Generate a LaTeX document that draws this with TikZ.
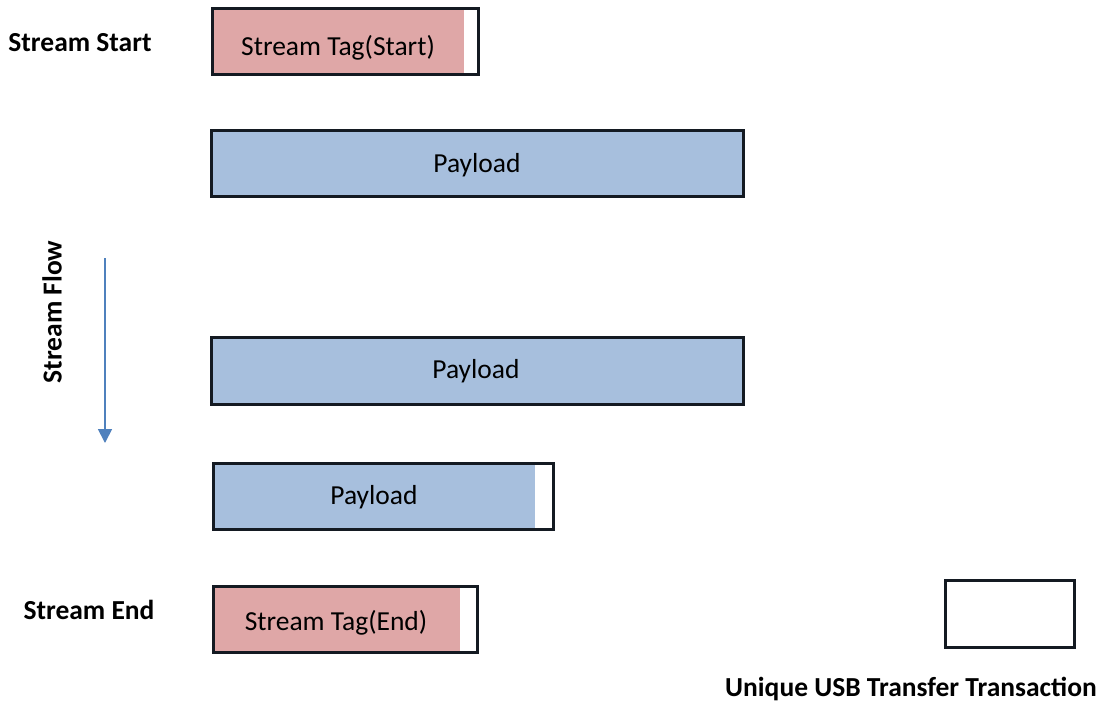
\documentclass[tikz,border=0pt]{standalone}
\usepackage{fontspec}
\setmainfont{Carlito}
\usetikzlibrary{arrows.meta}
\definecolor{pinkfill}{HTML}{DFA7A7}
\definecolor{bluefill}{HTML}{A7BFDD}
\definecolor{arrowblue}{HTML}{4F81BD}
\definecolor{frameline}{HTML}{141A22}
\tikzset{
  fillbox/.style={inner sep=0pt, outer sep=0pt, draw=none, anchor=north west},
  pinkbox/.style={fillbox, fill=pinkfill},
  bluebox/.style={fillbox, fill=bluefill},
  frame/.style={draw=frameline, line width=3pt},
  boxtext/.style={font=\fontsize{27.5}{32}\selectfont, inner sep=0pt, anchor=base, text=black},
  lbl/.style={font=\fontsize{27.5}{32}\selectfont\bfseries, inner sep=0pt, anchor=base},
  flow/.style={draw=arrowblue, line width=1.8pt, -{Triangle[width=14pt,length=14pt]}}
}
\begin{document}
\begin{tikzpicture}[x=1pt,y=-1pt]
\useasboundingbox[fill=white] (0,0) rectangle (1102,702);
% Stream Tag (Start)
\node[pinkbox, minimum width=252pt, minimum height=64pt] (tagstart) at (212,9) {};
\draw[frame] (212,8) rectangle (478,74);
\node[boxtext] (tagstarttxt) at (338,55) {Stream Tag(Start)};
% Payload 1
\node[bluebox, minimum width=532pt, minimum height=66pt] (pay1) at (211,130) {};
\draw[frame] (211,130) rectangle (743,196);
\node[boxtext] (pay1txt) at (477,172) {Payload};
% Payload 2
\node[bluebox, minimum width=532pt, minimum height=67pt] (pay2) at (211,337) {};
\draw[frame] (211,337) rectangle (743,404);
\node[boxtext] (pay2txt) at (476,378) {Payload};
% Payload 3
\node[bluebox, minimum width=322pt, minimum height=66pt] (pay3) at (213,463) {};
\draw[frame] (213,463) rectangle (553,529);
\node[boxtext] (pay3txt) at (374,504) {Payload};
% Stream Tag (End)
\node[pinkbox, minimum width=247pt, minimum height=66pt] (tagend) at (213,586) {};
\draw[frame] (213,586) rectangle (477,652);
\node[boxtext] (tagendtxt) at (336,630) {Stream Tag(End)};
% Legend box
\node[draw=frameline, line width=3pt, fill=white, minimum width=129pt, minimum height=67pt, inner sep=0pt, anchor=north west] (legend) at (944,579) {};
% Labels
\node[lbl] (startlbl) at (80,51.5) {Stream Start};
\node[lbl] (endlbl) at (89,619) {Stream End};
\node[lbl, rotate=90] (flowlbl) at (61.5,312) {Stream Flow};
\node[lbl] (legendlbl) at (911,696.5) {Unique USB Transfer Transaction};
% Flow arrow
\coordinate (flowtop) at (105,258);
\coordinate (flowbot) at (105,443);
\draw[flow] (flowtop) -- (flowbot);
\end{tikzpicture}
\end{document}
